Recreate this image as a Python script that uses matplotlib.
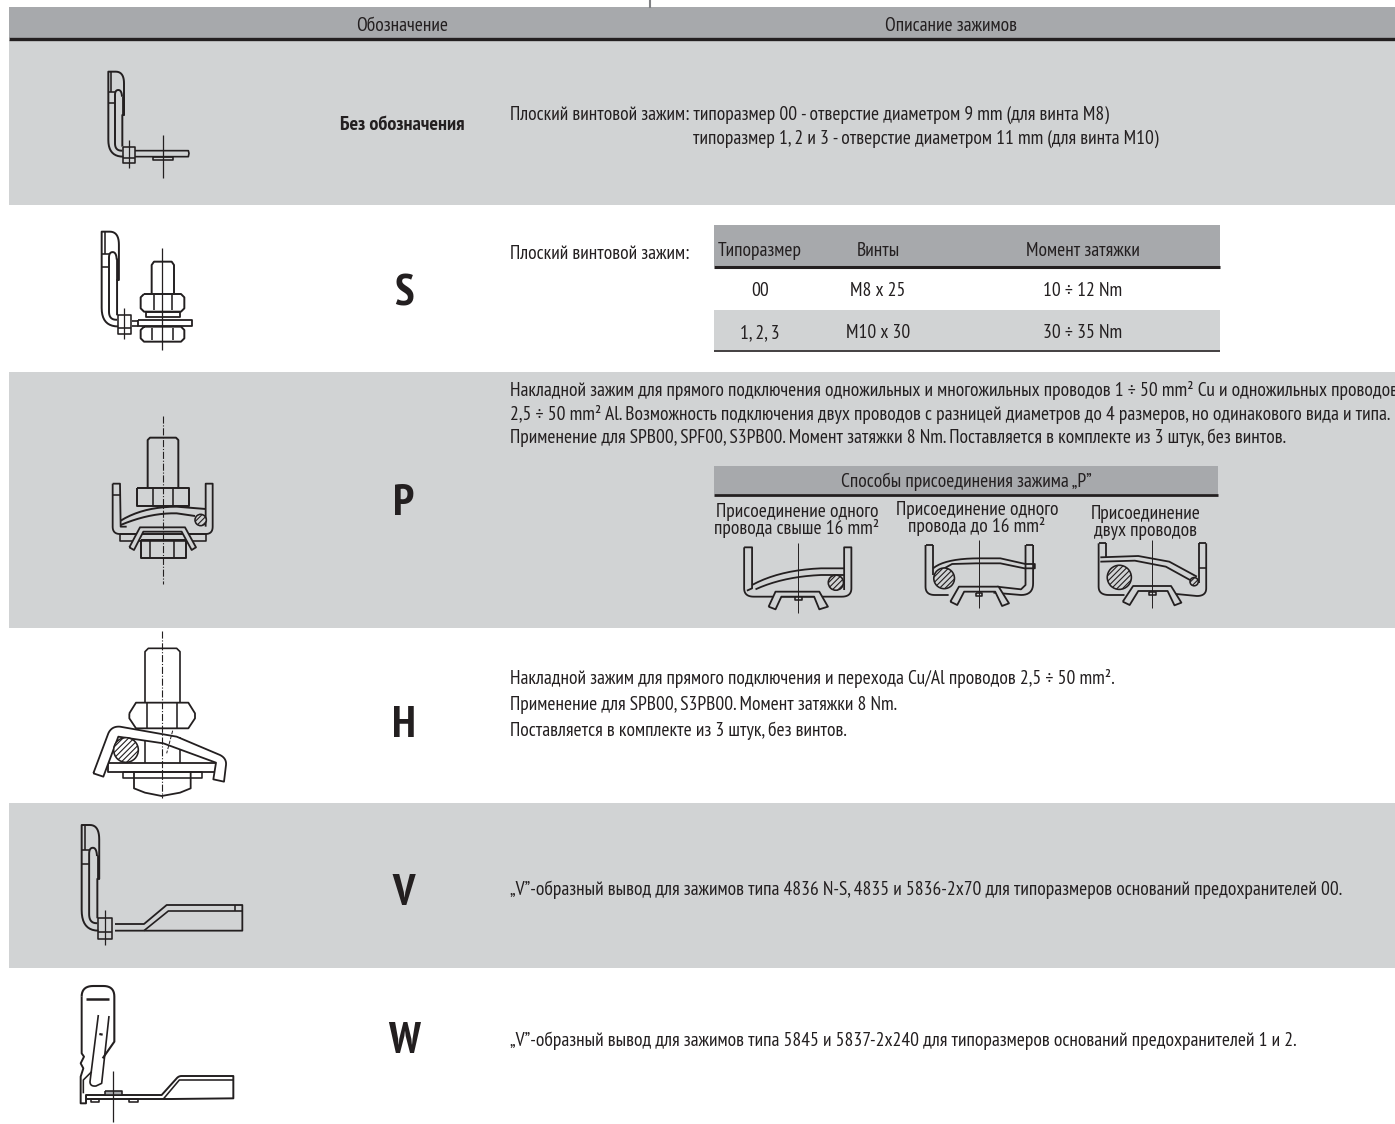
import matplotlib
matplotlib.use("Agg")
import matplotlib.pyplot as plt
from matplotlib.patches import Rectangle, Circle, PathPatch
from matplotlib.path import Path

FONT = ["PT Sans Narrow", "Roboto Condensed", "Liberation Sans", "DejaVu Sans"]
plt.rcParams["font.family"] = FONT
plt.rcParams["hatch.linewidth"] = 0.8

DARK = "#231f20"
HEAD = "#a7a9ac"
LIGHT = "#d1d3d4"
LW = 1.15
BODY = 14.0

# texts
col_titles = ["Обозначение", "Описание зажимов"]
codes = ["S", "P", "H", "V", "W"]
code_y = [293, 503, 725, 893, 1041]
no_code = "Без обозначения"
row1_lines = ["Плоский винтовой зажим: типоразмер 00 - отверстие диаметром 9 mm (для винта M8)",
              "типоразмер 1, 2 и 3 - отверстие диаметром 11 mm (для винта M10)"]
s_label = "Плоский винтовой зажим:"
s_head = ["Типоразмер", "Винты", "Момент затяжки"]
s_rows = [["00", "M8 x 25", "10 ÷ 12 Nm"], ["1, 2, 3", "M10 x 30", "30 ÷ 35 Nm"]]
p_lines = ["Накладной зажим для прямого подключения одножильных и многожильных проводов 1 ÷ 50 mm² Cu и одножильных проводов",
           "2,5 ÷ 50 mm² Al. Возможность подключения двух проводов с разницей диаметров до 4 размеров, но одинакового вида и типа.",
           "Применение для SPB00, SPF00, S3PB00. Момент затяжки 8 Nm. Поставляется в комплекте из 3 штук, без винтов."]
p_title = "Способы присоединения зажима „P”"
p_ways = [["Присоединение одного", "провода свыше 16 mm²"],
          ["Присоединение одного", "провода до 16 mm²"],
          ["Присоединение", "двух проводов"]]
h_lines = ["Накладной зажим для прямого подключения и перехода Cu/Al проводов 2,5 ÷ 50 mm².",
           "Применение для SPB00, S3PB00. Момент затяжки 8 Nm.",
           "Поставляется в комплекте из 3 штук, без винтов."]
v_line = "„V”-образный вывод для зажимов типа 4836 N-S, 4835 и 5836-2x70 для типоразмеров оснований предохранителей 00."
w_line = "„V”-образный вывод для зажимов типа 5845 и 5837-2x240 для типоразмеров оснований предохранителей 1 и 2."

fig = plt.figure(figsize=(13.95, 11.24), dpi=100)
ax = fig.add_axes([0, 0, 1, 1])
ax.set_xlim(0, 1395)
ax.set_ylim(1124, 0)
ax.axis("off")


def band(x0, x1, y0, y1, color):
    ax.add_patch(Rectangle((x0, y0), x1 - x0, y1 - y0, fc=color, ec="none", zorder=0))


def rule(x0, x1, y, lw=2.0, color=DARK):
    ax.plot([x0, x1], [y, y], color=color, lw=lw, solid_capstyle="butt", zorder=1)


def txt(x, y, s, size=BODY, ha="left", weight="normal"):
    ax.text(x, y + 1, s, fontsize=size, ha=ha, va="center", color=DARK, fontweight=weight, clip_on=True)


def q(p0, c, p1, n=10):
    # квадратичная кривая как ломаная
    out = []
    for i in range(n + 1):
        t = i / n
        out.append(((1 - t) ** 2 * p0[0] + 2 * t * (1 - t) * c[0] + t ** 2 * p1[0],
                    (1 - t) ** 2 * p0[1] + 2 * t * (1 - t) * c[1] + t ** 2 * p1[1]))
    return out


class Pen:
    """Рисует в координатах увеличенного фрагмента."""

    def __init__(self, ox, oy, sx=3.0, sy=3.0, dx=0.0, dy=0.0, kx=1.0, ky=1.0):
        self.ox, self.oy, self.sx, self.sy = ox, oy, sx, sy
        self.dx, self.dy, self.kx, self.ky = dx, dy, kx, ky

    def xy(self, p):
        return (self.ox + (self.dx + p[0] * self.kx) / self.sx,
                self.oy + (self.dy + p[1] * self.ky) / self.sy)

    def line(self, pts, lw=LW, closed=False, fc="none", color=DARK, ls="-", z=3):
        v = [self.xy(p) for p in pts]
        if closed:
            v.append(v[0])
        ax.add_patch(PathPatch(Path(v), fc=fc, ec=color, lw=lw, ls=ls, zorder=z, joinstyle="round"))

    def rect(self, x0, y0, x1, y1, **kw):
        self.line([(x0, y0), (x1, y0), (x1, y1), (x0, y1)], closed=True, **kw)

    def hatched(self, x, y, r, bg):
        c = self.xy((x, y))
        ax.add_patch(Circle(c, r / self.sx, fc=bg, ec=DARK, lw=LW, hatch="//////", zorder=4))

    def center(self, x, y0, y1, lw=0.8, ls="-"):
        self.line([(x, y0), (x, y1)], lw=lw, ls=ls, z=5)


def bracket(pen, foot_end=None):
    pen.line([(45, 255), *q((45, 255), (0, 255), (0, 205)), (0, 0), (22, 0), *q((22, 0), (47, 0), (47, 35)),
              (47, 130), (42, 130), (42, 225)], lw=1.4)
    pen.line([(8, 0), (8, 60)])
    pen.line([(0, 60), (20, 60)])
    pen.line([(0, 95), (20, 95)])
    pen.line([(42, 237), *q((40, 237), (20, 237), (20, 215)), (20, 70), *q((20, 70), (20, 55), (30, 55)),
              *q((30, 55), (40, 55), (41, 75))], lw=1.4)
    pen.line([(43, 72), (43, 130)], lw=2.0)
    pen.rect(45, 225, 80, 275, fc="none")
    pen.line([(45, 258), (80, 258)])
    pen.center(62, 205, 290, lw=0.9)
    if foot_end:
        pen.line([(80, 237), (foot_end, 237), (foot_end + 2, 245), (foot_end, 255), (80, 255)], lw=1.2)


def hexnut(pen, x0, y0, x1, y1, x2, x3, cut=10, lw=1.4):
    # гайка со скруглёнными углами
    pen.line([(x0 + cut, y0), (x1 - cut, y0), (x1, y0 + cut), (x1, y1 - cut), (x1 - cut, y1),
              (x0 + cut, y1), (x0, y1 - cut), (x0, y0 + cut)], closed=True, lw=lw)
    pen.line([(x2, y0 + 4), (x2, y1 - 4)])
    pen.line([(x3, y0 + 4), (x3, y1 - 4)])


# polosy
band(9, 1395, 7, 38, HEAD)
rule(9, 1395, 38.5, 2.4)
band(9, 1395, 40, 205, LIGHT)
band(9, 1395, 372, 628, LIGHT)
band(9, 1395, 803, 968, LIGHT)
ax.plot([650, 650], [0, 7], color="#808285", lw=1.5, zorder=1)

txt(402, 25, col_titles[0], ha="center")
txt(951, 25, col_titles[1], ha="center")
txt(402, 124, no_code, size=14.5, ha="center", weight="bold")
for c, y in zip(codes, code_y):
    txt(404, y, c, size=32, ha="center", weight="bold")

txt(510, 114, row1_lines[0])
txt(693, 138, row1_lines[1])

# таблица S
txt(510, 253, s_label)
band(714, 1220, 225, 266, HEAD)
rule(714, 1220, 267, 2.2)
band(714, 1220, 310, 350, LIGHT)
rule(714, 1220, 351, 1.2)
cell_x = [760, 878, 1083]
for x, s in zip(cell_x, s_head):
    txt(x, 250, s, ha="center")
for x, s in zip(cell_x, s_rows[0]):
    txt(x, 290, s, ha="center")
for x, s in zip(cell_x, s_rows[1]):
    txt(x, 332, s, ha="center")

# P
for y, s in zip([389, 413, 437], p_lines):
    txt(510, y, s)
band(714, 1218, 466, 494, HEAD)
rule(714, 1218, 495, 2.0)
txt(966, 481, p_title, ha="center")
for x, ys, lines in zip([797, 977, 1146], [(511, 527), (509, 525), (513, 530)], p_ways):
    txt(x, ys[0], lines[0], ha="center")
    txt(x, ys[1], lines[1], ha="center")

# H, V, W
for y, s in zip([678, 704, 730], h_lines):
    txt(510, y, s)
txt(510, 889, v_line)
txt(510, 1040, w_line)

# рисунок 1
p1 = Pen(0, 0, dx=325, dy=215)
bracket(p1, foot_end=240)
p1.rect(133, 255, 195, 265)
p1.center(163, 190, 320, lw=0.9)

# рисунок S
ps = Pen(0, 0, dx=305, dy=695, kx=1.1, ky=1.115)
bracket(ps)
pb = Pen(0, 0)
pb.line([(397, 962), (415, 962)], lw=1.2)
pb.line([(397, 978), (415, 978)], lw=1.2)
pb.line([(455, 880), (455, 795), (462, 785), (515, 785), (522, 795), (522, 880)], lw=1.4)
hexnut(pb, 422, 882, 553, 935, 462, 515)
pb.rect(437, 935, 540, 950, lw=1.3)
pb.rect(415, 960, 575, 978, lw=1.3)
hexnut(pb, 422, 980, 553, 1025, 455, 520)
pb.center(487, 743, 1050, lw=0.9)

# рисунок P
pp = Pen(60, 390)
pp.center(308, 78, 582, ls="-.")
pp.line([(263, 295), (263, 150), (270, 143), (348, 143), (355, 150), (355, 295)], lw=1.4)
pp.rect(230, 295, 388, 348, lw=1.4)
pp.line([(280, 295), (280, 348)])
pp.line([(340, 295), (340, 348)])
pp.rect(243, 450, 377, 505, lw=1.4)
pp.line([(270, 450), (270, 505)])
pp.line([(343, 450), (343, 505)])
pp.rect(180, 432, 437, 452)
pp.line([(158, 281), (158, 410), *q((158, 410), (158, 432), (180, 432)), (437, 432),
         *q((437, 432), (458, 432), (458, 410)), (458, 281), (437, 281), (437, 410)], lw=1.3)
pp.line([(158, 281), (180, 281), (182, 410), (200, 410)], lw=1.3)
pp.line([(158, 315), (180, 315)])
pp.line([(182, 392), *q((182, 392), (250, 350), (350, 350)), (437, 357)], lw=1.4)
pp.line([(182, 405), *q((182, 405), (270, 368), (350, 370)), (405, 378)], lw=1.4)
pp.hatched(422, 390, 17, LIGHT)
pp.line([(208, 472), (240, 412), (375, 412), (408, 472), (395, 480), (365, 425), (250, 425), (222, 480)],
        closed=True, lw=1.3, fc=LIGHT, z=4)

# рисунок H
ph = Pen(60, 390)
ph.center(307, 722, 1225, ls="-.")
ph.line([(255, 938), (255, 785), (265, 775), (350, 775), (360, 785), (360, 938)], lw=1.2)
ph.line([(208, 970), (228, 938), (385, 938), (405, 970), (405, 985), (385, 1015), (228, 1015), (208, 985)],
        closed=True, lw=1.3)
ph.line([(260, 938), (260, 1015)])
ph.line([(350, 938), (350, 1015)])
ph.line([(255, 1040), (255, 1118)])
ph.line([(360, 1040), (360, 1118)])
ph.rect(145, 1118, 468, 1145, lw=1.3)
ph.rect(190, 1145, 425, 1165)
ph.line([(222, 1145), (222, 1195), (255, 1208), (305, 1218), (360, 1208), (392, 1195), (392, 1145)], lw=1.3)
ph.line([(100, 1150), (145, 1030), *q((145, 1030), (155, 1008), (180, 1010)), (350, 1040), (480, 1095),
         *q((480, 1095), (500, 1105), (498, 1125)), (492, 1175), (460, 1168), (468, 1118), (310, 1060),
         (175, 1040), (130, 1160)], closed=True, lw=1.3, fc="white", z=4)
ph.hatched(198, 1080, 37, "white")
ph.line([(338, 1022), (320, 1090)], lw=0.7, ls="--", z=5)

# рисунок V
pv = Pen(60, 800, dx=65, dy=75, kx=1.12, ky=1.243)
bracket(pv)
pf = Pen(60, 800)
pf.line([(165, 372), (252, 372), (320, 315), (547, 315), (547, 392), (165, 392)], lw=1.3)
pf.line([(252, 392), (325, 333), (547, 333)], lw=1.2)
pf.line([(525, 315), (525, 333)])

# рисунок W
pw = Pen(60, 800)
pw.line([(65, 590), *q((65, 590), (65, 558), (100, 558)), (130, 558), *q((130, 558), (163, 558), (163, 590)),
         (163, 725), (128, 775)], lw=1.5)
pw.line([(65, 590), (65, 760), (72, 770), (62, 790), (70, 805), (62, 830), (62, 910), (78, 910), (78, 885),
         (305, 885), (350, 835), *q((350, 835), (356, 828), (365, 828)), (520, 828), (520, 895), (335, 897), (78, 897)],
        lw=1.4)
pw.line([(70, 880), (70, 840), (95, 815)])
pw.line([(310, 897), (358, 840), (520, 840)])
pw.line([(78, 598), (148, 598)], lw=1.8)
pw.line([(115, 645), (90, 845), *q((90, 845), (90, 860), (108, 858)), (125, 850), (147, 648)], lw=1.2)
pw.line([(118, 702), (128, 704)], lw=1.6)
pw.center(160, 812, 965, lw=0.9)
pw.rect(92, 897, 118, 905)
pw.rect(208, 897, 235, 905)
pw.rect(135, 872, 185, 885, fc=HEAD)

# способы присоединения
w1 = Pen(690, 460, sx=2.9, sy=3)
w1.line([(157, 262), (157, 385), *q((157, 385), (157, 410), (185, 410)), (440, 410),
         *q((440, 410), (468, 410), (468, 385)), (468, 262), (447, 262), (447, 390)], lw=1.3)
w1.line([(157, 262), (180, 262), (180, 385), (165, 392)], lw=1.3)
w1.line([(180, 375), *q((180, 375), (260, 330), (380, 325)), (447, 325)], lw=1.3)
w1.line([(190, 388), *q((190, 388), (270, 350), (380, 345)), (447, 345)], lw=1.3)
w1.hatched(423, 368, 22, LIGHT)
w1.line([(228, 440), (248, 395), (375, 395), (400, 440), (375, 448), (360, 410), (265, 410), (248, 448)],
        closed=True, lw=1.3, fc=LIGHT, z=4)
w1.rect(305, 408, 325, 420)
w1.center(313, 250, 458, lw=0.7)

w2 = Pen(690, 460, sx=2.9, sy=3)
w2.line([(683, 255), (683, 380), *q((683, 380), (683, 405), (710, 405)), (750, 405)], lw=1.3)
w2.line([(705, 255), (705, 345)], lw=1.3)
w2.line([(683, 255), (705, 255)], lw=1.3)
w2.line([(995, 255), (995, 370), *q((995, 370), (995, 405), (960, 405)), (880, 398)], lw=1.3)
w2.line([(973, 255), (973, 375), (960, 388), (890, 380)], lw=1.3)
w2.line([(973, 255), (995, 255)], lw=1.3)
w2.line([(705, 325), *q((705, 325), (740, 295), (840, 295)), (900, 295), (973, 312), (1000, 312), (1000, 325),
         (970, 325), (900, 310), (830, 310), (760, 312), (720, 335)], lw=1.3)
w2.hatched(737, 355, 30, LIGHT)
w2.line([(755, 425), (780, 380), (895, 380), (925, 430), (905, 438), (885, 395), (795, 395), (775, 435)],
        closed=True, lw=1.3, fc=LIGHT, z=4)
w2.rect(828, 398, 848, 408)
w2.center(838, 240, 445, lw=0.7)

w3 = Pen(690, 460, sx=2.9, sy=3)
w3.line([(1185, 250), (1185, 380), *q((1185, 380), (1185, 405), (1215, 405)), (1260, 405)], lw=1.3)
w3.line([(1207, 250), (1207, 295)], lw=1.3)
w3.line([(1185, 250), (1207, 250)], lw=1.3)
w3.line([(1497, 250), (1497, 385), *q((1497, 385), (1497, 408), (1470, 408)), (1390, 400)], lw=1.3)
w3.line([(1475, 250), (1475, 370)], lw=1.3)
w3.line([(1475, 250), (1497, 250)], lw=1.3)
w3.line([(1475, 325), (1497, 325)])
w3.line([(1190, 292), (1300, 288), (1390, 305), (1470, 350)], lw=1.3)
w3.line([(1190, 305), (1290, 302), (1380, 320), (1450, 360)], lw=1.3)
w3.hatched(1245, 352, 35, LIGHT)
w3.hatched(1462, 365, 12, LIGHT)
w3.line([(1255, 425), (1285, 378), (1395, 378), (1425, 428), (1405, 436), (1385, 393), (1300, 393), (1275, 435)],
        closed=True, lw=1.3, fc=LIGHT, z=4)
w3.rect(1330, 396, 1352, 406)
w3.center(1341, 240, 445, lw=0.7)

plt.savefig("out.png", dpi=100)
